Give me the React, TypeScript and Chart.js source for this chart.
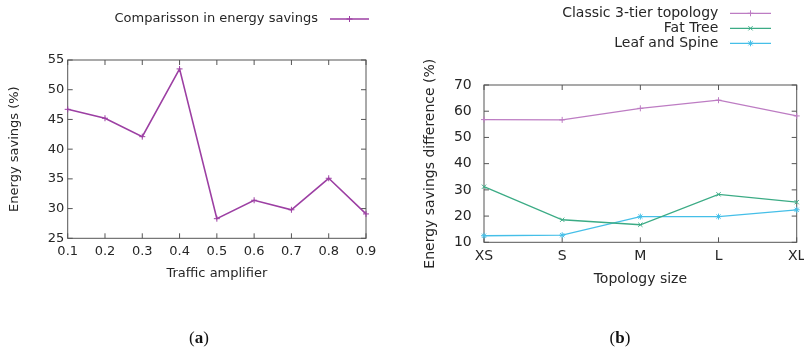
import React, { useEffect, useRef } from "react";
import { Chart, registerables } from "chart.js";

Chart.register(...registerables);

// (a) energy savings against the traffic amplifier
const amplifiers = [0.1, 0.2, 0.3, 0.4, 0.5, 0.6, 0.7, 0.8, 0.9];
const savings = [46.7, 45.2, 42.1, 53.5, 28.3, 31.4, 29.8, 35.1, 29.1];

// (b) energy savings difference per topology size
const topologySizes = ["XS", "S", "M", "L", "XL"];
const classic3Tier = [56.8, 56.7, 61.1, 64.2, 58.2];
const fatTree = [31.2, 18.6, 16.7, 28.3, 25.3];
const leafSpine = [12.5, 12.7, 19.8, 19.8, 22.4];

const FONT = "'DejaVu Sans', Verdana, sans-serif";
const TEXT = "#262626";
const FRAME = "#555555";

function strokeMarker(ctx: CanvasRenderingContext2D, style: string, x: number, y: number, r: number) {
  ctx.beginPath();
  if (style === "cross" || style === "star") {
    ctx.moveTo(x - r, y);
    ctx.lineTo(x + r, y);
    ctx.moveTo(x, y - r);
    ctx.lineTo(x, y + r);
  }
  if (style === "crossRot" || style === "star") {
    const d = r * Math.SQRT1_2;
    ctx.moveTo(x - d, y - d);
    ctx.lineTo(x + d, y + d);
    ctx.moveTo(x + d, y - d);
    ctx.lineTo(x - d, y + d);
  }
  ctx.stroke();
}

// Border around the plot with inward tick marks on all four sides
const framePlugin = {
  id: "plotFrame",
  beforeDatasetsDraw(chart: any) {
    const { ctx, chartArea: a, scales } = chart;
    const len = 5;
    ctx.save();
    ctx.strokeStyle = FRAME;
    ctx.lineWidth = 1;
    ctx.strokeRect(a.left, a.top, a.right - a.left, a.bottom - a.top);
    ctx.beginPath();
    scales.x.ticks.forEach((_t: any, i: number) => {
      const px = scales.x.getPixelForTick(i);
      ctx.moveTo(px, a.bottom);
      ctx.lineTo(px, a.bottom - len);
      ctx.moveTo(px, a.top);
      ctx.lineTo(px, a.top + len);
    });
    scales.y.ticks.forEach((_t: any, i: number) => {
      const py = scales.y.getPixelForTick(i);
      ctx.moveTo(a.left, py);
      ctx.lineTo(a.left + len, py);
      ctx.moveTo(a.right, py);
      ctx.lineTo(a.right - len, py);
    });
    ctx.stroke();
    ctx.restore();
  },
};

// Key: right-aligned labels followed by a line sample with its marker
const keyPlugin = {
  id: "plotKey",
  afterDraw(chart: any, _args: any, opts: any) {
    const { ctx } = chart;
    ctx.save();
    ctx.font = `${opts.fontSize}px ${FONT}`;
    ctx.textAlign = "right";
    ctx.textBaseline = "middle";
    chart.data.datasets.forEach((ds: any, i: number) => {
      const y = opts.top + i * opts.step;
      ctx.fillStyle = TEXT;
      ctx.fillText(ds.label, opts.textRight, y);
      ctx.strokeStyle = ds.borderColor;
      ctx.lineWidth = ds.borderWidth;
      ctx.beginPath();
      ctx.moveTo(opts.lineStart, y);
      ctx.lineTo(opts.lineEnd, y);
      ctx.stroke();
      ctx.lineWidth = 1;
      strokeMarker(ctx, ds.pointStyle, (opts.lineStart + opts.lineEnd) / 2, y, ds.pointRadius);
    });
    ctx.restore();
  },
};

function fitY(width: number) {
  return (scale: any) => {
    scale.width = width;
    scale.paddingTop = 0;
    scale.paddingBottom = 0;
  };
}

function fitX(height: number) {
  return (scale: any) => {
    scale.height = height;
    scale.paddingLeft = 0;
    scale.paddingRight = 0;
  };
}

const noGrid = { display: false, drawTicks: false };

function SavingsChart() {
  const ref = useRef<HTMLCanvasElement>(null);
  useEffect(() => {
    const font = { family: FONT, size: 13 };
    const chart = new Chart(ref.current!, {
      type: "line",
      data: {
        datasets: [
          {
            label: "Comparisson in energy savings",
            data: amplifiers.map((a, i) => ({ x: a, y: savings[i] })),
            borderColor: "#9c3fa3",
            borderWidth: 1.6,
            pointStyle: "cross",
            pointRadius: 3,
            pointBorderColor: "#9c3fa3",
            pointBorderWidth: 1,
            tension: 0,
            clip: false as any,
          },
        ],
      },
      options: {
        responsive: false,
        animation: false,
        events: [],
        layout: { padding: { top: 60, right: 34, bottom: 62.7, left: 0 } },
        plugins: {
          legend: { display: false },
          tooltip: { enabled: false },
          plotKey: { fontSize: 13, textRight: 318, top: 19, step: 15, lineStart: 330, lineEnd: 369 },
        } as any,
        scales: {
          x: {
            type: "linear",
            min: 0.1,
            max: 0.9,
            grid: noGrid,
            border: { display: false },
            ticks: {
              stepSize: 0.1,
              padding: 5.6,
              color: TEXT,
              font,
              maxRotation: 0,
              callback: (v: any) => Number(v).toFixed(1),
            },
            title: {
              display: true,
              text: "Traffic amplifier",
              color: TEXT,
              font,
              padding: { top: 4, bottom: 6.5 },
            },
            afterFit: fitX(50),
          },
          y: {
            min: 25,
            max: 55,
            grid: noGrid,
            border: { display: false },
            ticks: { stepSize: 5, padding: 3.4, color: TEXT, font },
            title: {
              display: true,
              text: "Energy savings (%)",
              color: TEXT,
              font,
              padding: { top: 7.2, bottom: 0 },
            },
            afterFit: fitY(67.7),
          },
        },
      },
      plugins: [framePlugin, keyPlugin],
    });
    return () => chart.destroy();
  }, []);
  return <canvas ref={ref} width={400} height={351} style={{ position: "absolute", left: 0, top: 0 }} />;
}

function TopologyChart() {
  const ref = useRef<HTMLCanvasElement>(null);
  useEffect(() => {
    const font = { family: FONT, size: 14 };
    const series = [
      { label: "Classic 3-tier topology", values: classic3Tier, color: "#bd7cc3", style: "cross" },
      { label: "Fat Tree", values: fatTree, color: "#3bab85", style: "crossRot" },
      { label: "Leaf and Spine", values: leafSpine, color: "#45bfe8", style: "star" },
    ];
    const chart = new Chart(ref.current!, {
      type: "line",
      data: {
        labels: topologySizes,
        datasets: series.map((s) => ({
          label: s.label,
          data: s.values,
          borderColor: s.color,
          borderWidth: 1.3,
          pointStyle: s.style as any,
          pointRadius: 3,
          pointBorderColor: s.color,
          pointBorderWidth: 1,
          tension: 0,
          clip: false as any,
        })),
      },
      options: {
        responsive: false,
        animation: false,
        events: [],
        layout: { padding: { top: 85, right: 7.3, bottom: 58.7, left: 0 } },
        plugins: {
          legend: { display: false },
          tooltip: { enabled: false },
          plotKey: { fontSize: 14, textRight: 318.3, top: 13.3, step: 15, lineStart: 330, lineEnd: 371 },
        } as any,
        scales: {
          x: {
            type: "category",
            offset: false,
            grid: noGrid,
            border: { display: false },
            ticks: { padding: 6, color: TEXT, font, maxRotation: 0, autoSkip: false },
            title: {
              display: true,
              text: "Topology size",
              color: TEXT,
              font,
              padding: { top: 4, bottom: 4.9 },
            },
            afterFit: fitX(50),
          },
          y: {
            min: 10,
            max: 70,
            grid: noGrid,
            border: { display: false },
            ticks: { stepSize: 10, padding: 12.3, color: TEXT, font },
            title: {
              display: true,
              text: "Energy savings difference (%)",
              color: TEXT,
              font,
              padding: { top: 21.6, bottom: 0 },
            },
            afterFit: fitY(84),
          },
        },
      },
      plugins: [framePlugin, keyPlugin],
    });
    return () => chart.destroy();
  }, []);
  return <canvas ref={ref} width={404} height={351} style={{ position: "absolute", left: 400, top: 0 }} />;
}

function Caption({ letter, center }: { letter: string; center: number }) {
  return (
    <div
      style={{
        position: "absolute",
        left: center - 40,
        width: 80,
        top: 328,
        textAlign: "center",
        fontFamily: "'Liberation Serif', 'DejaVu Serif', serif",
        fontSize: 17,
        lineHeight: "20px",
        color: "#111",
      }}
    >
      (<b>{letter}</b>)
    </div>
  );
}

export default function App() {
  return (
    <div
      style={{
        position: "fixed",
        left: 0,
        top: 0,
        width: 804,
        height: 351,
        background: "#fff",
        overflow: "hidden",
      }}
    >
      <SavingsChart />
      <TopologyChart />
      <Caption letter="a" center={199} />
      <Caption letter="b" center={620} />
    </div>
  );
}
